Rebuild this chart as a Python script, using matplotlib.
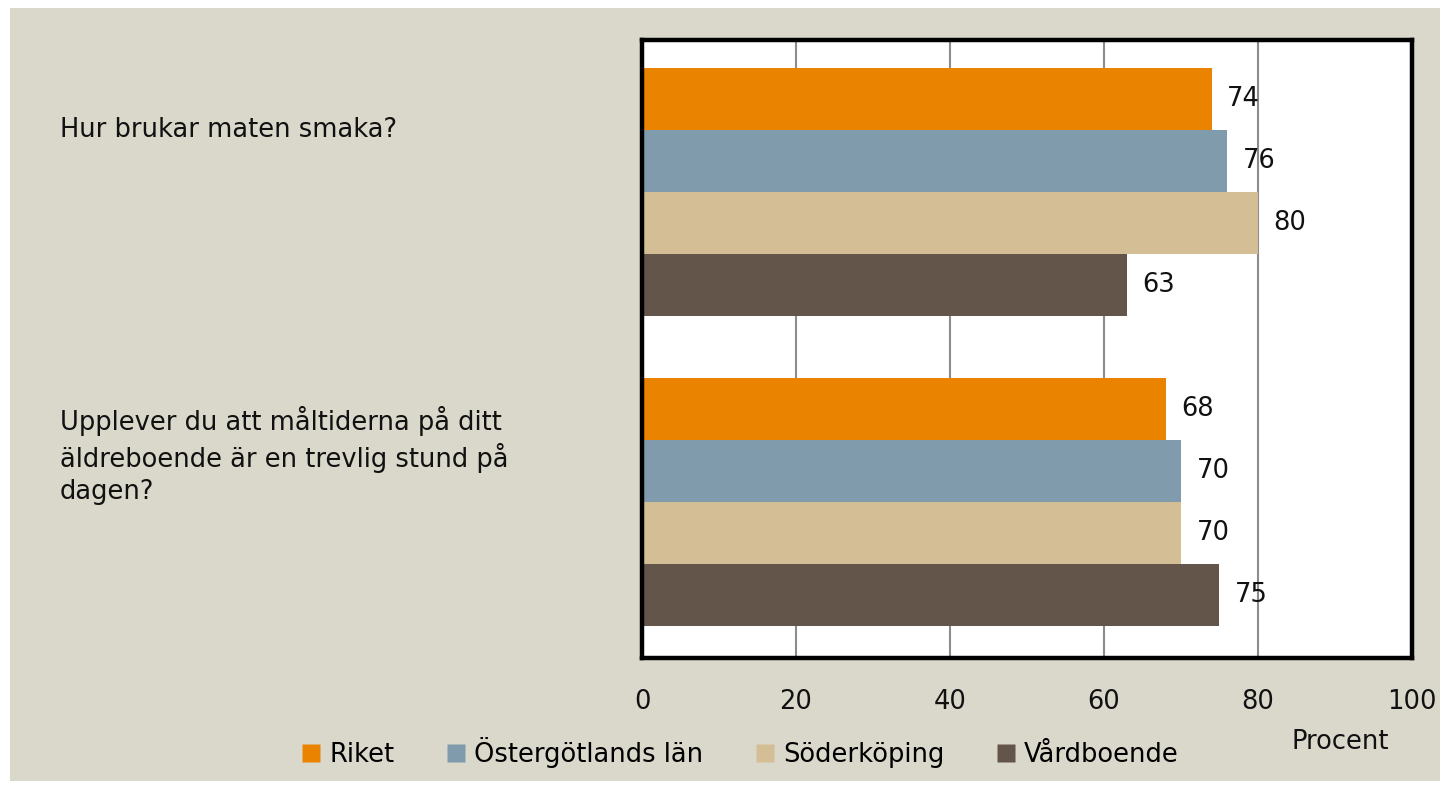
import numpy as np
import matplotlib
matplotlib.use('Agg')
import matplotlib.pyplot as plt
from matplotlib.patches import Rectangle
from matplotlib.lines import Line2D

plt.rcParams['font.family'] = ['DejaVu Sans']

# data
questions = ['Hur brukar maten smaka?',
             'Upplever du att måltiderna på ditt\näldreboende är en trevlig stund på\ndagen?']
series = ['Riket', 'Östergötlands län', 'Söderköping', 'Vårdboende']
riket = [74, 68]
ostergotland = [76, 70]
soderkoping = [80, 70]
vardboende = [63, 75]
xticks = [0, 20, 40, 60, 80, 100]

colors = ['#E98300', '#7F9BAC', '#D3BE95', '#63554A']
bg = '#DAD8CB'
fs = 18.5

fig = plt.figure(figsize=(14.48, 7.88), dpi=100)
fig.patch.set_facecolor('white')
fig.patches.append(Rectangle((10 / 1448, 1 - 781 / 788), 1430 / 1448, 773 / 788,
                             transform=fig.transFigure, facecolor=bg,
                             edgecolor='none', zorder=-10))

ax = fig.add_axes([642 / 1448, 1 - 658 / 788, 770 / 1448, 618 / 788])
ax.set_facecolor('white')

values = [riket, ostergotland, soderkoping, vardboende]
for s, vals in enumerate(values):
    for g, v in enumerate(vals):
        y = g * 5 + s
        ax.barh(y, v, height=1.0, color=colors[s], zorder=2)
        ax.text(v + 2, y, str(v), va='center', ha='left', fontsize=fs, color='#111111', zorder=3)

ax.set_xlim(0, 100)
ax.set_ylim(9.02, -0.95)
ax.set_xticks(xticks)
ax.set_xticklabels([str(t) for t in xticks], fontsize=fs, color='#111111')
ax.tick_params(axis='x', length=0, pad=22)
ax.set_yticks([])
ax.xaxis.grid(True, color='#8c8c8c', linewidth=1.5, zorder=0)
ax.set_axisbelow(True)
for sp in ax.spines.values():
    sp.set_linewidth(3.2)
    sp.set_color('black')

# category labels
trans = matplotlib.transforms.blended_transform_factory(fig.transFigure, ax.transData)
ax.text(60 / 1448, 0.5, questions[0], transform=trans, ha='left', va='center',
        fontsize=fs, color='#111111')
ax.text(60 / 1448, 5.75, questions[1], transform=trans, ha='left', va='center',
        fontsize=fs, color='#111111', linespacing=1.3)

handles = [Line2D([], [], marker='s', linestyle='none', markersize=13,
                  markerfacecolor=c, markeredgecolor='none') for c in colors]
fig.legend(handles, series, loc='center', bbox_to_anchor=(740 / 1448, 1 - 752 / 788),
           ncol=4, frameon=False, fontsize=fs, handlelength=0.8, handletextpad=0.3,
           columnspacing=2.0)

fig.text(1340 / 1448, 1 - 742 / 788, 'Procent', ha='center', va='center',
         fontsize=fs, color='#111111')

fig.savefig('out.png', dpi=100, facecolor=fig.get_facecolor())
